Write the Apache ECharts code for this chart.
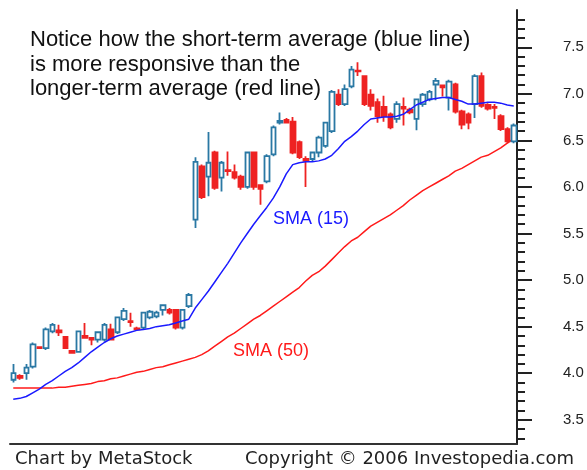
<!DOCTYPE html>
<html>
<head>
<meta charset="utf-8">
<title>SMA 15 vs SMA 50</title>
<script src="https://cdn.jsdelivr.net/npm/echarts@6/dist/echarts.min.js"></script>
<style>
  html, body { margin: 0; padding: 0; background: #fff; }
  #chart { width: 587px; height: 470px; }
</style>
</head>
<body>
<div id="chart"></div>
<script>
// daily candles: [open, close, low, high]
const candles = [
  [3.93, 4.00, 3.90, 4.10], [3.97, 3.95, 3.93, 3.99], [4.00, 4.06, 3.93, 4.10], [4.07, 4.31, 4.05, 4.33],
  [4.28, 4.27, 4.26, 4.29], [4.27, 4.47, 4.25, 4.49], [4.45, 4.52, 4.43, 4.54], [4.46, 4.44, 4.40, 4.52],
  [4.39, 4.27, 4.26, 4.40], [4.24, 4.22, 4.21, 4.25], [4.23, 4.45, 4.22, 4.46], [4.40, 4.38, 4.37, 4.54],
  [4.38, 4.36, 4.30, 4.39], [4.36, 4.44, 4.33, 4.45], [4.36, 4.52, 4.34, 4.54], [4.47, 4.36, 4.35, 4.53],
  [4.44, 4.60, 4.42, 4.61], [4.58, 4.67, 4.56, 4.70], [4.56, 4.55, 4.50, 4.65], [4.48, 4.47, 4.46, 4.50],
  [4.49, 4.65, 4.47, 4.66], [4.60, 4.66, 4.58, 4.68], [4.61, 4.65, 4.59, 4.67], [4.68, 4.73, 4.62, 4.74],
  [4.68, 4.65, 4.63, 4.70], [4.68, 4.49, 4.47, 4.69], [4.49, 4.68, 4.47, 4.69], [4.72, 4.84, 4.70, 4.86],
  [5.65, 6.27, 5.56, 6.32], [6.22, 5.89, 5.87, 6.24], [6.11, 6.26, 5.90, 6.59], [6.37, 5.99, 5.97, 6.39],
  [6.10, 6.26, 5.95, 6.28], [6.18, 6.17, 6.12, 6.38], [6.16, 6.10, 6.08, 6.24], [6.11, 6.00, 5.97, 6.13],
  [6.00, 6.37, 5.98, 6.38], [6.37, 6.00, 5.97, 6.38], [6.02, 5.98, 5.81, 6.03], [6.06, 6.33, 6.04, 6.35],
  [6.35, 6.64, 6.33, 6.66], [6.69, 6.71, 6.67, 6.80], [6.72, 6.69, 6.68, 6.74], [6.70, 6.37, 6.35, 6.75],
  [6.48, 6.32, 6.30, 6.50], [6.30, 6.28, 6.00, 6.33], [6.30, 6.37, 6.28, 6.38], [6.37, 6.53, 6.32, 6.55],
  [6.44, 6.69, 6.42, 6.70], [6.60, 7.02, 6.58, 7.04], [6.99, 6.89, 6.87, 7.05], [6.89, 7.05, 6.87, 7.10],
  [7.08, 7.26, 7.06, 7.30], [7.25, 7.24, 7.19, 7.34], [7.19, 6.89, 6.87, 7.20], [6.99, 6.87, 6.82, 7.05],
  [6.91, 6.76, 6.69, 6.95], [6.86, 6.76, 6.70, 6.98], [6.78, 6.64, 6.62, 6.80], [6.73, 6.89, 6.69, 6.92],
  [6.86, 6.84, 6.66, 6.96], [6.83, 6.80, 6.78, 6.85], [6.73, 6.94, 6.61, 6.95], [6.89, 6.99, 6.86, 7.01],
  [6.94, 7.02, 6.92, 7.04], [7.10, 7.14, 6.93, 7.17], [7.09, 7.07, 6.97, 7.10], [6.96, 7.13, 6.82, 7.15],
  [7.10, 6.81, 6.79, 7.12], [6.81, 6.67, 6.62, 6.83], [6.78, 6.69, 6.62, 6.80], [6.89, 7.19, 6.74, 7.21],
  [7.19, 6.87, 6.85, 7.23], [6.88, 6.84, 6.82, 6.90], [6.86, 6.85, 6.73, 6.89], [6.76, 6.62, 6.60, 6.78],
  [6.62, 6.49, 6.47, 6.64], [6.49, 6.66, 6.47, 6.68]
];

// moving averages
const sma15 = [
  3.72, 3.73, 3.75, 3.79, 3.83, 3.88, 3.92, 3.97, 4.02, 4.06, 4.11, 4.17, 4.23, 4.28, 4.33, 4.37,
  4.40, 4.42, 4.44, 4.46, 4.47, 4.48, 4.50, 4.51, 4.52, 4.54, 4.56, 4.58, 4.70, 4.79, 4.88, 4.98,
  5.08, 5.18, 5.29, 5.40, 5.50, 5.60, 5.69, 5.78, 5.88, 6.00, 6.14, 6.24, 6.26, 6.27, 6.27, 6.28,
  6.30, 6.34, 6.41, 6.49, 6.54, 6.60, 6.67, 6.73, 6.74, 6.75, 6.75, 6.76, 6.78, 6.83, 6.88, 6.91,
  6.94, 6.95, 6.96, 6.96, 6.94, 6.92, 6.89, 6.89, 6.90, 6.91, 6.91, 6.90, 6.88, 6.87
];
const sma50 = [
  3.84, 3.84, 3.84, 3.84, 3.84, 3.84, 3.84, 3.85, 3.85, 3.86, 3.87, 3.88, 3.89, 3.91, 3.92, 3.94,
  3.95, 3.97, 3.99, 4.01, 4.02, 4.04, 4.06, 4.07, 4.09, 4.11, 4.13, 4.15, 4.17, 4.20, 4.24, 4.29,
  4.34, 4.39, 4.43, 4.48, 4.53, 4.58, 4.62, 4.67, 4.72, 4.77, 4.82, 4.87, 4.92, 4.99, 5.05, 5.09,
  5.15, 5.22, 5.29, 5.36, 5.42, 5.46, 5.52, 5.58, 5.62, 5.66, 5.70, 5.75, 5.80, 5.86, 5.91, 5.96,
  6.00, 6.04, 6.08, 6.12, 6.17, 6.20, 6.24, 6.28, 6.32, 6.34, 6.38, 6.42, 6.47, 6.52
];

const majorTicks = [3.5, 4.0, 4.5, 5.0, 5.5, 6.0, 6.5, 7.0, 7.5];
const minorTicks = [
  3.3, 3.4, 3.6, 3.7, 3.8, 3.9, 4.1, 4.2, 4.3, 4.4, 4.6, 4.7, 4.8, 4.9, 5.1, 5.2, 5.3, 5.4,
  5.6, 5.7, 5.8, 5.9, 6.1, 6.2, 6.3, 6.4, 6.6, 6.7, 6.8, 6.9, 7.1, 7.2, 7.3, 7.4, 7.6, 7.7, 7.8
];
const days = candles.map((c, i) => String(i + 1));

let myChart = echarts.init(document.getElementById("chart"));
let upColor = "#2a78a4";
let downColor = "#ee2222";
let axisColor = "#222";
let yMin = 3.24;
let yMax = 7.9;

let option = {
  animation: false,
  backgroundColor: "#fff",
  grid: {
    left: 10,
    right: 70,
    top: 10,
    bottom: 26
  },
  xAxis: {
    type: "category",
    data: days,
    boundaryGap: true,
    axisLine: { show: true, lineStyle: { color: "#333", width: 2 } },
    axisTick: { show: false },
    axisLabel: { show: false },
    splitLine: { show: false }
  },
  yAxis: [
    {
      type: "value",
      position: "right",
      min: yMin,
      max: yMax,
      axisLine: { show: true, lineStyle: { color: axisColor, width: 2 } },
      axisTick: {
        show: true,
        length: 15,
        customValues: majorTicks,
        lineStyle: { color: axisColor, width: 2 }
      },
      axisLabel: {
        show: true,
        customValues: majorTicks,
        margin: 46,
        color: "#222",
        fontFamily: "Liberation Sans",
        fontSize: 15,
        formatter: v => v.toFixed(1)
      },
      splitLine: { show: false }
    },
    {
      type: "value",
      position: "right",
      min: yMin,
      max: yMax,
      axisLine: { show: false },
      axisTick: {
        show: true,
        length: 8,
        customValues: minorTicks,
        lineStyle: { color: axisColor, width: 2 }
      },
      axisLabel: { show: false },
      splitLine: { show: false }
    }
  ],
  series: [
    {
      name: "SMA (50)",
      type: "line",
      data: sma50,
      symbol: "none",
      z: 1,
      lineStyle: { color: "#ff1a1a", width: 1.5 }
    },
    {
      name: "Price",
      type: "candlestick",
      data: candles,
      barWidth: 5,
      z: 2,
      itemStyle: {
        color: "#fff",
        color0: downColor,
        borderColor: upColor,
        borderColor0: downColor,
        borderWidth: 1.8
      }
    },
    {
      name: "SMA (15)",
      type: "line",
      data: sma15,
      symbol: "none",
      z: 3,
      lineStyle: { color: "#1a1aff", width: 1.5 }
    }
  ],
  graphic: [
    {
      type: "text",
      left: 30,
      top: 28,
      style: {
        text: "Notice how the short-term average (blue line)\nis more responsive than the\nlonger-term average (red line)",
        fill: "#111",
        font: "22px 'Liberation Sans', Arial, sans-serif",
        lineHeight: 24.5
      }
    },
    {
      type: "text",
      left: 273,
      top: 210,
      style: {
        text: "SMA (15)",
        fill: "#1a1aff",
        font: "18px 'Liberation Sans', Arial, sans-serif"
      }
    },
    {
      type: "text",
      left: 233,
      top: 342,
      style: {
        text: "SMA (50)",
        fill: "#ff1a1a",
        font: "18px 'Liberation Sans', Arial, sans-serif"
      }
    },
    {
      type: "text",
      left: 15,
      top: 450,
      style: {
        text: "Chart by MetaStock",
        fill: "#222",
        font: "18px 'DejaVu Sans', sans-serif"
      }
    },
    {
      type: "text",
      left: 245,
      top: 450,
      style: {
        text: "Copyright \u00a9 2006 Investopedia.com",
        fill: "#222",
        font: "18px 'DejaVu Sans', sans-serif"
      }
    }
  ]
};
myChart.setOption(option);

window.addEventListener("resize", () => {
  myChart.resize();
});
</script>
</body>
</html>
